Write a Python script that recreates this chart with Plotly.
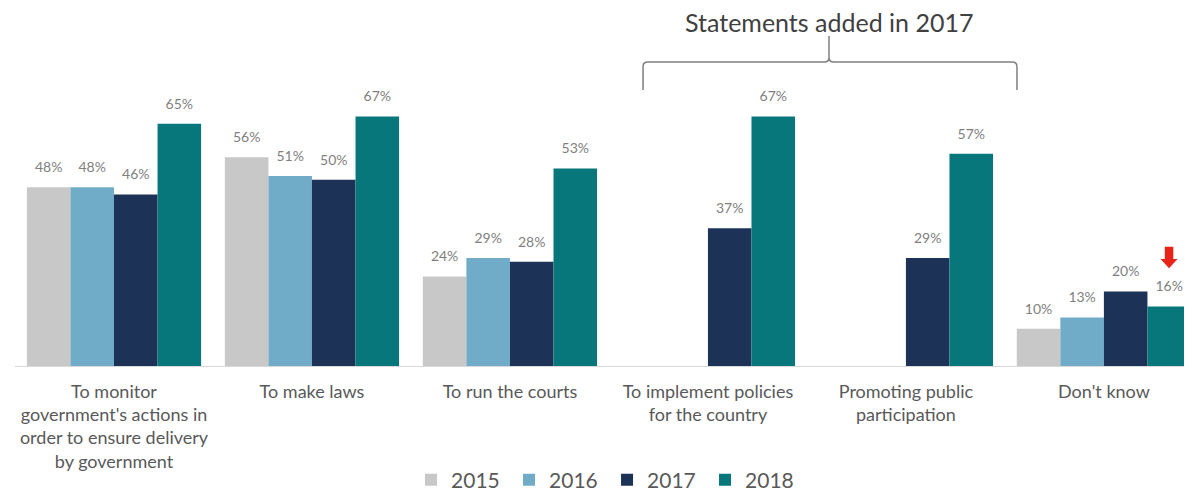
import plotly.graph_objects as go

categorias = [
    "To monitor<br>government's actions in<br>order to ensure delivery<br>by government",
    "To make laws",
    "To run the courts",
    "To implement policies<br>for the country",
    "Promoting public<br>participation",
    "Don't know",
]
anos = ["2015", "2016", "2017", "2018"]
v2015 = [48, 56, 24, None, None, 10]
v2016 = [48, 51, 29, None, None, 13]
v2017 = [46, 50, 28, 37, 29, 20]
v2018 = [65, 67, 53, 67, 57, 16]
series = [v2015, v2016, v2017, v2018]
cores = ['#C8C8C8', '#70ACC8', '#1C3357', '#08777B']

fig = go.Figure()
for ano, vals, cor in zip(anos, series, cores):
    fig.add_trace(go.Bar(
        x=list(range(len(categorias))), y=vals, name=ano,
        marker=dict(color=cor, line=dict(width=0)),
    ))

# value labels, grouped like the bars so they sit above each one
for ano, vals in zip(anos, series):
    fig.add_trace(go.Scatter(
        x=list(range(len(categorias))), y=vals,
        mode='markers+text', showlegend=False,
        text=[f'{v}%' if v is not None else '' for v in vals],
        textposition='top center',
        textfont=dict(family='Lato', size=14, color='#7F7F7F'),
        marker=dict(size=17, opacity=0),
        hoverinfo='skip',
    ))

# brace over the statements added in 2017
xl, xc, xr = 0.5336, 0.6916, 0.8513
yb, yh, yt = 0.847, 0.9325, 1.012
dx, dy = 0.004, 0.014
brace = (f"M{xl},{yb} L{xl},{yh-dy} Q{xl},{yh} {xl+dx},{yh} L{xc-dx},{yh} "
         f"Q{xc},{yh} {xc},{yh+dy} L{xc},{yt} M{xc},{yh+dy} Q{xc},{yh} {xc+dx},{yh} "
         f"L{xr-dx},{yh} Q{xr},{yh} {xr},{yh-dy} L{xr},{yb}")
fig.add_shape(type='path', path=brace, xref='paper', yref='paper',
              line=dict(color='#7F7F7F', width=1.5))
fig.add_annotation(text='Statements added in 2017', xref='paper', yref='paper',
                   x=xc, y=1.055, xanchor='center', yanchor='middle', showarrow=False,
                   font=dict(family='Lato', size=25, color='#404040'))

# red arrow over the 2018 "Don't know" bar
ax, hw, sw = 0.9805, 0.0072, 0.0036
y_top, y_neck, y_tip = 0.366, 0.328, 0.300
arrow = (f"M{ax-sw},{y_top} L{ax+sw},{y_top} L{ax+sw},{y_neck} L{ax+hw},{y_neck} "
         f"L{ax},{y_tip} L{ax-hw},{y_neck} L{ax-sw},{y_neck} Z")
fig.add_shape(type='path', path=arrow, xref='paper', yref='paper',
              fillcolor='#E8231A', line=dict(width=0))

# the page has an 8px body margin, so the figure is 8px smaller than the window
fig.update_layout(
    width=1184, height=484,
    margin=dict(l=7, r=0, t=32, b=126, autoexpand=False),
    barmode='group', bargap=0.12, bargroupgap=0,
    scattermode='group', scattergap=0.12,
    plot_bgcolor='white', paper_bgcolor='white',
    font=dict(family='Lato', color='#595959'),
    xaxis=dict(
        tickmode='array', tickvals=list(range(len(categorias))), ticktext=categorias,
        range=[-0.5, 5.445], showline=True, linecolor='#D9D9D9', linewidth=1,
        ticks='', tickfont=dict(family='Lato', size=18, color='#595959'),
        ticklabelstandoff=9, showgrid=False, zeroline=False,
    ),
    yaxis=dict(range=[0, 87.5], visible=False, showgrid=False, zeroline=False),
    legend=dict(orientation='h', x=0.503, xanchor='center', y=-0.35, yanchor='middle',
                font=dict(family='Lato', size=21, color='#595959'),
                itemwidth=30, entrywidth=53, traceorder='normal'),
    showlegend=True,
)

fig.write_html("out.html")
